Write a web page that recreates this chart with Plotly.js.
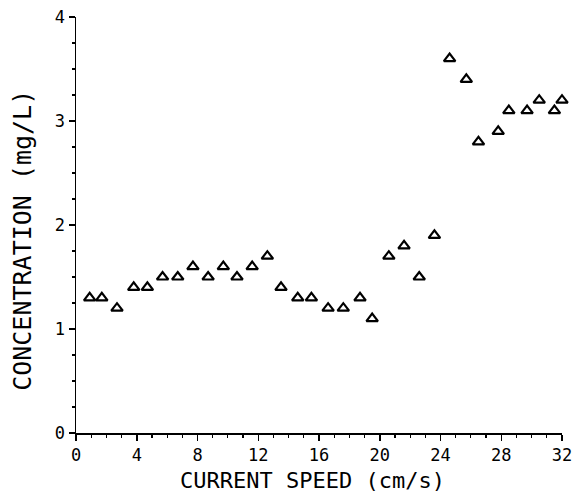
<!DOCTYPE html>
<html>
<head>
<meta charset="utf-8">
<script src="https://cdn.plot.ly/plotly-3.0.1.min.js"></script>
<style>
html,body{margin:0;padding:0;background:#fff;}
#chart{width:573px;height:498px;}
</style>
</head>
<body>
<div id="chart"></div>
<script>
const currentSpeed = [0.9,1.7,2.7,3.8,4.7,5.7,6.7,7.7,8.7,9.7,10.6,11.6,12.6,13.5,14.6,15.5,16.6,17.6,18.7,19.5,20.6,21.6,22.6,23.6,24.6,25.7,26.5,27.8,28.5,29.7,30.5,31.5,32.0];
const concentration = [1.3,1.3,1.2,1.4,1.4,1.5,1.5,1.6,1.5,1.6,1.5,1.6,1.7,1.4,1.3,1.3,1.2,1.2,1.3,1.1,1.7,1.8,1.5,1.9,3.6,3.4,2.8,2.9,3.1,3.1,3.2,3.1,3.2];
const xTicks = [0,4,8,12,16,20,24,28,32];
const yTicks = [0,1,2,3,4];
const xTitle = "CURRENT SPEED (cm/s)";
const yTitle = "CONCENTRATION (mg/L)";

const fontFam = "DejaVu Sans Mono, Liberation Mono, monospace";

const trace = {
  x: currentSpeed,
  y: concentration,
  type: "scatter",
  mode: "markers",
  cliponaxis: false,
  marker: {symbol: "triangle-up-open", size: 10, color: "#000", line: {width: 2.2, color: "#000"}},
  hoverinfo: "x+y"
};

const layout = {
  width: 573, height: 498,
  margin: {l: 76, r: 11, t: 17, b: 65},
  paper_bgcolor: "#fff", plot_bgcolor: "#fff",
  showlegend: false,
  font: {family: fontFam, color: "#000", size: 17},
  xaxis: {
    range: [0, 32], tickvals: xTicks, ticktext: xTicks.map(String),
    showgrid: false, zeroline: false, showline: true, linecolor: "#000", linewidth: 1.5,
    ticks: "outside", ticklen: 6, tickwidth: 1.5, tickcolor: "#000",
    minor: {dtick: 1, tick0: 0, ticks: "outside", ticklen: 3, tickwidth: 1.2, tickcolor: "#000", showgrid: false},
    tickfont: {family: fontFam, size: 17, color: "#000"}
  },
  yaxis: {
    range: [0, 4], tickvals: yTicks, ticktext: yTicks.map(String),
    showgrid: false, zeroline: false, showline: true, linecolor: "#000", linewidth: 1.5,
    ticks: "outside", ticklen: 6, tickwidth: 1.5, tickcolor: "#000",
    minor: {dtick: 0.25, tick0: 0, ticks: "outside", ticklen: 3, tickwidth: 1.2, tickcolor: "#000", showgrid: false},
    tickfont: {family: fontFam, size: 17, color: "#000"}
  },
  annotations: [
    {text: xTitle, xref: "paper", yref: "paper", x: 0.486, y: -0.113, xanchor: "center", yanchor: "middle",
     showarrow: false, font: {family: fontFam, size: 22, color: "#000"}},
    {text: yTitle, xref: "paper", yref: "paper", x: -0.109, y: 0.462, xanchor: "center", yanchor: "middle",
     textangle: -90, showarrow: false, font: {family: fontFam, size: 25, color: "#000"}}
  ]
};

Plotly.newPlot("chart", [trace], layout, {displayModeBar: false, staticPlot: true});
</script>
</body>
</html>
